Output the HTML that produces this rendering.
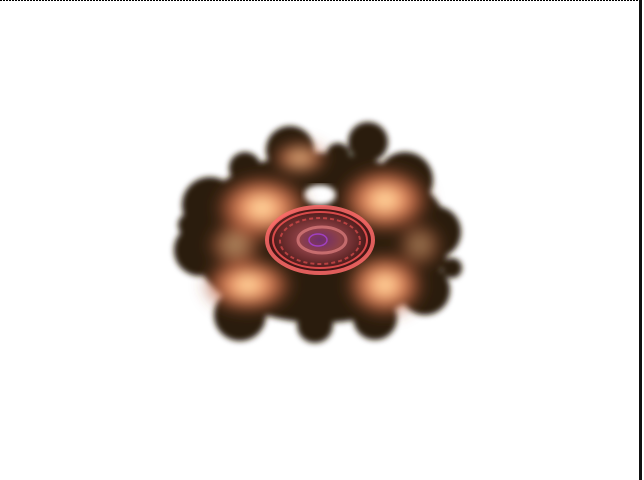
<!DOCTYPE html>
<html><head><meta charset="utf-8"><style>
html,body{margin:0;padding:0;background:#fff;width:644px;height:480px;overflow:hidden}
svg{display:block}
</style></head><body>
<svg width="644" height="480">
<defs>
<filter id="b4"><feGaussianBlur stdDeviation="3"/></filter>
<filter id="b8"><feGaussianBlur stdDeviation="7"/></filter>
<radialGradient id="glow"><stop offset="0" stop-color="#fff0b0"/><stop offset="0.35" stop-color="#f8a070"/><stop offset="0.7" stop-color="#c06040" stop-opacity="0.7"/><stop offset="1" stop-color="#7a3a20" stop-opacity="0"/></radialGradient>
<radialGradient id="core"><stop offset="0" stop-color="#7a3080"/><stop offset="0.4" stop-color="#a04850"/><stop offset="1" stop-color="#401010"/></radialGradient>
</defs>
<rect width="644" height="480" fill="#fff"/>
<line x1="0" y1="0.5" x2="640" y2="0.5" stroke="#000" stroke-dasharray="2,1"/>
<rect x="639" y="0" width="3" height="480" fill="#111"/>
<g filter="url(#b4)" fill="#2a1a0a">
<ellipse cx="320" cy="238" rx="130" ry="85"/>
<circle cx="210" cy="205" r="28"/><circle cx="200" cy="250" r="26"/><circle cx="240" cy="315" r="26"/>
<circle cx="290" cy="150" r="24"/><circle cx="368" cy="142" r="20"/><circle cx="405" cy="180" r="28"/>
<circle cx="435" cy="232" r="26"/><circle cx="425" cy="290" r="25"/><circle cx="375" cy="318" r="22"/>
<circle cx="315" cy="325" r="18"/><circle cx="190" cy="225" r="12"/><circle cx="452" cy="268" r="10"/>
<circle cx="245" cy="168" r="16"/><circle cx="338" cy="155" r="12"/>
</g>
<ellipse cx="320" cy="195" rx="16" ry="10" fill="#fff" filter="url(#b4)"/>
<g filter="url(#b8)">
<ellipse cx="262" cy="208" rx="50" ry="35" fill="url(#glow)"/>
<ellipse cx="385" cy="200" rx="48" ry="35" fill="url(#glow)"/>
<ellipse cx="248" cy="285" rx="48" ry="30" fill="url(#glow)"/>
<ellipse cx="385" cy="285" rx="42" ry="34" fill="url(#glow)"/>
<ellipse cx="300" cy="158" rx="30" ry="18" fill="url(#glow)" opacity="0.8"/>
<ellipse cx="235" cy="245" rx="30" ry="25" fill="url(#glow)" opacity="0.6"/>
<ellipse cx="420" cy="245" rx="25" ry="25" fill="url(#glow)" opacity="0.5"/>
</g>
<g>
<ellipse cx="320" cy="240" rx="52" ry="32" fill="url(#core)" opacity="0.85"/>
<ellipse cx="320" cy="240" rx="53" ry="33" fill="none" stroke="#ff6a6a" stroke-width="4" opacity="0.85"/>
<ellipse cx="320" cy="240" rx="47" ry="28" fill="none" stroke="#e85050" stroke-width="2" opacity="0.9"/>
<ellipse cx="320" cy="241" rx="40" ry="23" fill="none" stroke="#d04848" stroke-width="2" stroke-dasharray="4,3" opacity="0.8"/>
<ellipse cx="322" cy="240" rx="24" ry="13" fill="none" stroke="#e08080" stroke-width="3" opacity="0.7"/>
<ellipse cx="318" cy="240" rx="9" ry="6" fill="none" stroke="#a040c0" stroke-width="1.5"/>
</g>
</svg>
</body></html>
